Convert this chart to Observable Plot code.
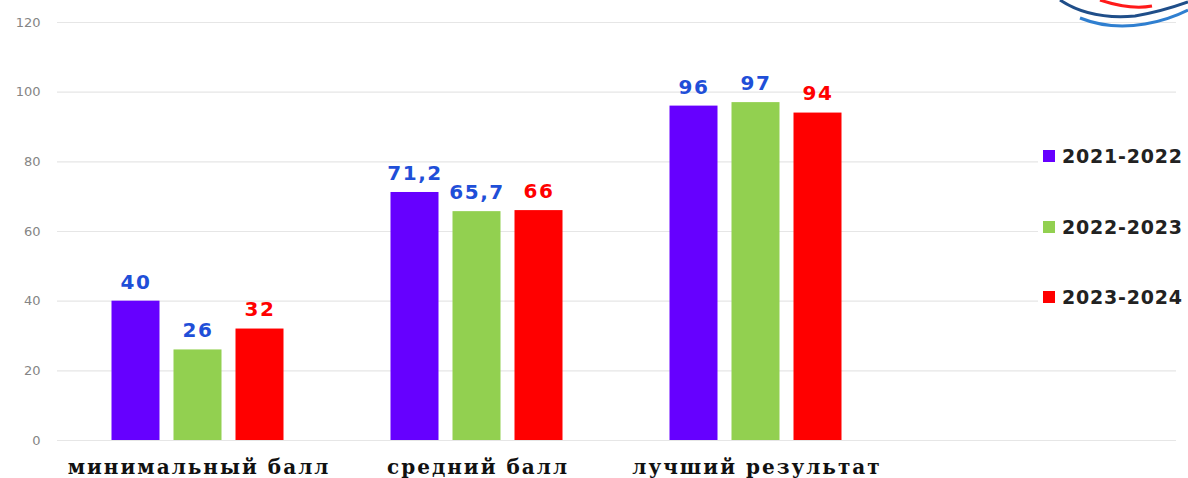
<!DOCTYPE html>
<html>
<head>
<meta charset="utf-8">
<script src="https://cdn.jsdelivr.net/npm/d3@7"></script>
<script src="https://cdn.jsdelivr.net/npm/@observablehq/plot@0.6"></script>
<style>
  html, body { margin: 0; padding: 0; background: #fff; }
  #wrap { position: relative; width: 1188px; height: 478px; overflow: hidden; }
  #legend { position: absolute; left: 1038px; top: 140px; width: 150px; height: 178px; background: #fff; }
  .li { position: absolute; left: 5px; display: flex; align-items: center; font-family: "DejaVu Sans", sans-serif; font-weight: bold; font-size: 19px; letter-spacing: 0.8px; color: #222; white-space: nowrap; }
  .sw { width: 12px; height: 12px; margin-right: 7px; }
  #logo { position: absolute; left: 1040px; top: 0; }
</style>
</head>
<body>
<div id="wrap">
  <div id="chart"></div>
  <div id="legend"></div>
  <svg id="logo" width="148" height="40" viewBox="0 0 148 40">
    <path d="M 60 0 Q 90 10 112 6" fill="none" stroke="#ff1a1a" stroke-width="3"/>
    <path d="M 20 0 Q 50 20 95 16 Q 120 12 148 2" fill="none" stroke="#1f4e89" stroke-width="3"/>
    <path d="M 40 18 Q 70 30 105 24 Q 128 20 148 10" fill="none" stroke="#2f7fd0" stroke-width="3"/>
  </svg>
</div>
<script>
const categories = ["минимальный балл", "средний балл", "лучший результат"];
const seriesNames = ["2021-2022", "2022-2023", "2023-2024"];
const values2021 = [40, 71.2, 96];
const values2022 = [26, 65.7, 97];
const values2023 = [32, 66, 94];
const valueLabels2021 = ["40", "71,2", "96"];
const valueLabels2022 = ["26", "65,7", "97"];
const valueLabels2023 = ["32", "66", "94"];
const yTicks = [0, 20, 40, 60, 80, 100, 120];

const seriesValues = [values2021, values2022, values2023];
const seriesLabels = [valueLabels2021, valueLabels2022, valueLabels2023];
const barColors = ["#6600ff", "#92d050", "#ff0000"];
const labelColors = ["#1f4fd8", "#1f4fd8", "#ff0000"];
const offsets = [-63, -1, 61];
const bandHalf = 140, barHalf = 24.5;

const rows = seriesNames.map((s, i) => categories.map((c, j) => ({
  category: c, series: s, value: seriesValues[i][j], label: seriesLabels[i][j]
})));

const marks = [
  Plot.ruleY(yTicks, {stroke: "#e6e6e6", strokeWidth: 1.2})
];
rows.forEach((data, i) => {
  marks.push(Plot.barY(data, {
    x: "category", y: "value", fill: barColors[i],
    insetLeft: bandHalf + offsets[i] - barHalf,
    insetRight: bandHalf - offsets[i] - barHalf
  }));
  marks.push(Plot.text(data, {
    x: "category", y: "value", text: "label", dx: offsets[i], dy: -19,
    fill: labelColors[i], fontSize: 20, fontWeight: "bold",
    fontFamily: "DejaVu Sans, sans-serif", className: "vlab"
  }));
});

const chart = Plot.plot({
  width: 1188,
  height: 478,
  marginLeft: 57,
  marginRight: 12,
  marginTop: 22,
  marginBottom: 38,
  x: {domain: [...categories, ""], padding: 0, label: null, tickSize: 0, tickPadding: 19},
  y: {domain: [0, 120], ticks: yTicks, label: null, tickSize: 0, tickPadding: 17},
  style: {background: "#fff", overflow: "visible"},
  marks
});

d3.select(chart).selectAll("[aria-label='y-axis tick label']")
  .attr("fill", "#858585").attr("font-size", 13).attr("font-family", "DejaVu Sans, sans-serif");
d3.select(chart).selectAll("[aria-label='x-axis tick label']")
  .attr("fill", "#111").attr("font-size", 20).attr("font-weight", "bold")
  .attr("letter-spacing", "2px")
  .attr("font-family", "DejaVu Serif, serif");
d3.select(chart).selectAll(".vlab text").attr("letter-spacing", "1.5px");
document.getElementById("chart").appendChild(chart);

const legend = document.getElementById("legend");
const legendTops = [5, 76, 146];
seriesNames.forEach((s, i) => {
  const d = document.createElement("div");
  d.className = "li";
  d.style.top = legendTops[i] + "px";
  d.innerHTML = `<span class="sw" style="background:${barColors[i]}"></span>${s}`;
  legend.appendChild(d);
});
</script>
</body>
</html>
